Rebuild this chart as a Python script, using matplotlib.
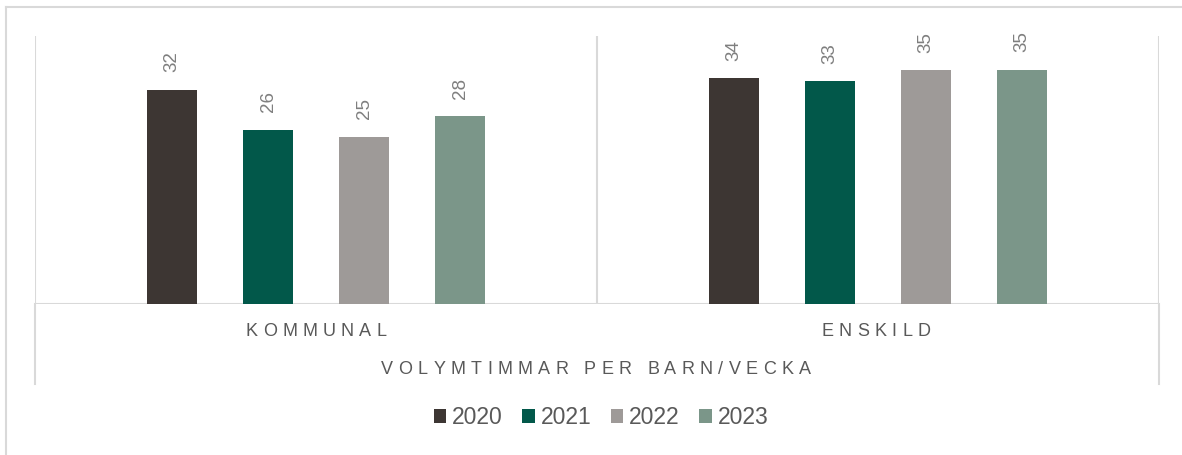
import matplotlib
matplotlib.use("Agg")
import matplotlib.pyplot as plt
from matplotlib.lines import Line2D
from matplotlib.patches import Patch
from matplotlib.font_manager import FontProperties, findfont
from matplotlib.ft2font import FT2Font

plt.rcParams['font.family'] = ['Liberation Sans', 'DejaVu Sans']

groups = ['KOMMUNAL', 'ENSKILD']
years = ['2020', '2021', '2022', '2023']
v2020 = [32.0, 33.7]
v2021 = [26.0, 33.3]
v2022 = [25.0, 34.9]
v2023 = [28.0, 35.0]
series = [v2020, v2021, v2022, v2023]
colors = ['#3d3633', '#02584a', '#9e9a98', '#7b9689']
axis_title = 'VOLYMTIMMAR PER BARN/VECKA'

W, H = 1182, 455
DPI = 100
grid_c = '#d9d9d9'
text_c = '#595959'


def tracked_text(fig, cx, cy, s, size=13, gap=5.3, color=text_c):
    # matplotlib has no letter spacing, so place each character (pixel coords)
    font = FT2Font(findfont(FontProperties(family='Liberation Sans')))
    font.set_size(size, DPI)
    adv = [font.load_char(ord(c)).linearHoriAdvance / 65536 for c in s]
    total = sum(adv) + gap * (len(s) - 1)
    x = cx - total / 2
    for c, a in zip(s, adv):
        fig.text(x / W, 1 - cy / H, c, ha='left', va='center',
                 fontsize=size, color=color, family='Liberation Sans')
        x += a + gap


fig = plt.figure(figsize=(W / DPI, H / DPI), dpi=DPI)
ax = fig.add_axes([35 / W, 1 - 304 / H, (1159 - 35) / W, (304 - 36) / H])

slot = 96 / 562
width = 50 / 562
for i, (vals, col) in enumerate(zip(series, colors)):
    xs = [g + (i - 1.5) * slot for g in range(len(groups))]
    bars = ax.bar(xs, vals, width=width, color=col, label=years[i], zorder=3)
    for b, v in zip(bars, vals):
        ax.annotate(f'{v:.0f}', (b.get_x() + b.get_width() / 2, v),
                    xytext=(0, 12.5), textcoords='offset points',
                    rotation=90, ha='center', va='bottom',
                    fontsize=13.5, color='#7f7f7f')

ax.set_xlim(-0.5, len(groups) - 0.5)
ax.set_ylim(0, 40)
ax.axis('off')

lw = 1.5
ax.axhline(0, color=grid_c, lw=lw, zorder=1)
for x in [-0.5, 0.5, 1.5]:
    ax.axvline(x, color=grid_c, lw=lw, zorder=1)

# outer axis lines continue down past the category labels
for px in [35, 1159]:
    fig.add_artist(Line2D([px / W, px / W], [1 - 304 / H, 1 - 384 / H],
                          color=grid_c, lw=lw))

# chart frame
fig.add_artist(Line2D([6 / W, 1], [1 - 7 / H, 1 - 7 / H], color=grid_c, lw=lw))
fig.add_artist(Line2D([6 / W, 6 / W], [0, 1 - 7 / H], color=grid_c, lw=lw))

tracked_text(fig, 316, 331, groups[0])
tracked_text(fig, 876, 331, groups[1])
tracked_text(fig, 596, 370, axis_title)

handles = [Patch(facecolor=c, label=y) for c, y in zip(colors, years)]
fig.legend(handles=handles, loc='center', bbox_to_anchor=(601 / W, 1 - 418 / H),
           ncol=4, frameon=False, fontsize=16.5, labelcolor=text_c,
           handlelength=0.55, handleheight=0.55, handletextpad=0.25,
           columnspacing=0.85)

fig.savefig('out.png', dpi=DPI)
